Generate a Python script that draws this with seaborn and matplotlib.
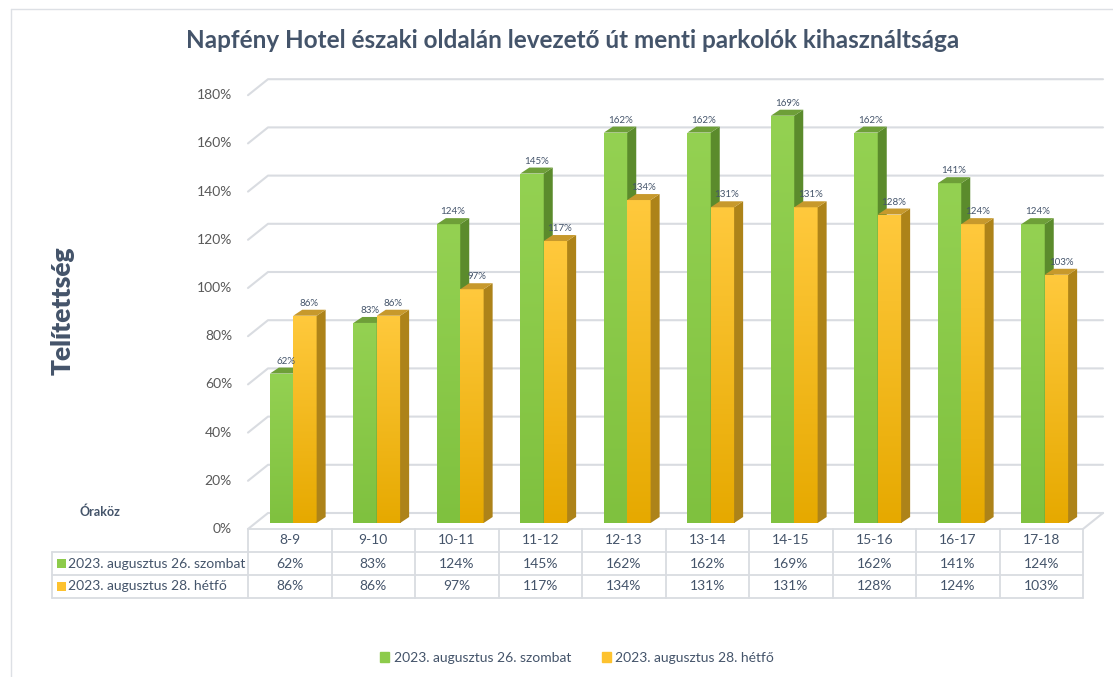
import numpy as np
import pandas as pd
import matplotlib
matplotlib.use('Agg')
import matplotlib.pyplot as plt
import seaborn as sns
from matplotlib.patches import Polygon, Rectangle, Patch
from matplotlib.lines import Line2D
from matplotlib.colors import LinearSegmentedColormap

# Adatok
orakoz = ['8-9', '9-10', '10-11', '11-12', '12-13', '13-14', '14-15', '15-16', '16-17', '17-18']
szombat = [62, 83, 124, 145, 162, 162, 169, 162, 141, 124]
hetfo = [86, 86, 97, 117, 134, 131, 131, 128, 124, 103]
sorozatok = ['2023. augusztus 26. szombat', '2023. augusztus 28. hétfő']
y_ertekek = [0, 20, 40, 60, 80, 100, 120, 140, 160, 180]

cim = 'Napfény Hotel északi oldalán levezető út menti parkolók kihasználtsága'

df = pd.DataFrame({
    'orakoz': orakoz * 2,
    'ertek': szombat + hetfo,
    'nap': [sorozatok[0]] * len(orakoz) + [sorozatok[1]] * len(orakoz),
})

zold = '#8DCB4B'
narancs = '#FDC22F'
szoveg = '#44546A'
racs = '#D9DCE1'

sns.set_theme(style='white')
plt.rcParams['font.family'] = ['Lato', 'DejaVu Sans']

W, H = 1113, 677
fig = plt.figure(figsize=(W / 100, H / 100), dpi=100)

# a tengely az oszlopok síkja: x 248..1083 px, 0% a 523 px-nél
ax_left, ax_right = 248, 1083
y0_px = 523
px_per_pct = 2.41
ax_top = y0_px - 180 * px_per_pct
ax = fig.add_axes([ax_left / W, 1 - y0_px / H,
                   (ax_right - ax_left) / W, (y0_px - ax_top) / H])

ux = len(orakoz) / (ax_right - ax_left)   # adategység / pixel (x)
uy = 180 / (y0_px - ax_top)              # adategység / pixel (y)

# első és hátsó sík eltolása (3D hatás)
fy = -6 * uy
bx, by = 20 * ux, 10 * uy
dx, dy = 9 * ux, 6 * uy

sns.barplot(data=df, x='orakoz', y='ertek', hue='nap', order=orakoz,
            palette={sorozatok[0]: zold, sorozatok[1]: narancs},
            width=0.56, saturation=1, ax=ax, legend=False, edgecolor='none')

szinek = [
    dict(also='#7FC13F', felso='#94D152', oldal='#5B8B2C', teteje='#6E9F38', z=2),
    dict(also='#E6A900', felso='#FFC93D', oldal='#AD8319', teteje='#C7992C', z=3),
]

for ci, cont in enumerate(ax.containers):
    sz = szinek[ci]
    cmap = LinearSegmentedColormap.from_list('g', [sz['also'], sz['felso']])
    for bar in cont:
        bar.set_x(bar.get_x() + 3.5 * ux)
        x0, w, h = bar.get_x(), bar.get_width(), bar.get_height()
        bar.set_zorder(sz['z'])
        grad = np.linspace(0, 1, 256).reshape(-1, 1)
        im = ax.imshow(grad, extent=(x0, x0 + w, 0, h), origin='lower',
                       aspect='auto', cmap=cmap, zorder=sz['z'] + 0.01)
        im.set_clip_path(bar)
        ax.add_patch(Polygon([(x0 + w, 0), (x0 + w + dx, dy), (x0 + w + dx, h + dy), (x0 + w, h)],
                             closed=True, facecolor=sz['oldal'], edgecolor='none', zorder=sz['z'] + 0.1))
        ax.add_patch(Polygon([(x0, h), (x0 + dx, h + dy), (x0 + w + dx, h + dy), (x0 + w, h)],
                             closed=True, facecolor=sz['teteje'], edgecolor='none', zorder=sz['z'] + 0.1))
        ax.text(x0 + w / 2 + dx / 2, h + dy + 2 * uy, f'{int(round(h))}%',
                ha='center', va='bottom', fontsize=7, color=szoveg, zorder=6)

# rácsvonalak (hátsó fal) és a bal oldali ferde szakaszok
for v in y_ertekek:
    ax.plot([-0.5, -0.5 + bx, len(orakoz) - 0.5 + bx], [v + fy, v + by, v + by],
            color=racs, lw=1.5, zorder=0.5, clip_on=False)
    ax.text(-0.5 - 16 * ux, v + fy, f'{v}%', ha='right', va='center',
            fontsize=10, color='#595959', clip_on=False)

# padló jobb oldali éle
ax.plot([len(orakoz) - 0.5, len(orakoz) - 0.5 + bx], [fy, by], color=racs, lw=1.5,
        zorder=0.5, clip_on=False)

# adattábla a tengely alatt
rh = 23 * uy
left_x = -0.5 - (ax_left - 52) * ux
right_x = len(orakoz) - 0.5
tabla = dict(color=racs, lw=1.3, clip_on=False, zorder=1)
ax.plot([-0.5, right_x], [fy, fy], **tabla)
for r in range(1, 4):
    ax.plot([left_x, right_x], [fy - r * rh] * 2, **tabla)
for k in range(len(orakoz) + 1):
    ax.plot([k - 0.5, k - 0.5], [fy, fy - 3 * rh], **tabla)
ax.plot([left_x, left_x], [fy - rh, fy - 3 * rh], **tabla)

for k, o in enumerate(orakoz):
    ax.text(k, fy - 0.5 * rh, o, ha='center', va='center', fontsize=10, color=szoveg, clip_on=False)
    ax.text(k, fy - 1.5 * rh, f'{szombat[k]}%', ha='center', va='center', fontsize=10,
            color=szoveg, clip_on=False)
    ax.text(k, fy - 2.5 * rh, f'{hetfo[k]}%', ha='center', va='center', fontsize=10,
            color=szoveg, clip_on=False)

for r, (nev, szin) in enumerate(zip(sorozatok, [zold, narancs])):
    yc = fy - (1.5 + r) * rh
    ax.add_patch(Rectangle((left_x + 5 * ux, yc - 4.5 * uy), 9 * ux, 9 * uy,
                           facecolor=szin, edgecolor='none', clip_on=False))
    ax.text(left_x + 16 * ux, yc, nev, ha='left', va='center', fontsize=10,
            color=szoveg, clip_on=False)

ax.set_xlim(-0.5, len(orakoz) - 0.5)
ax.set_ylim(0, 180)
ax.set_xticks([])
ax.set_yticks([])
ax.set_xlabel('')
ax.set_ylabel('')
for s in ax.spines.values():
    s.set_visible(False)
ax.patch.set_alpha(0)

fig.text(573 / W, 1 - 40 / H, cim, ha='center', va='center', fontsize=17.5,
         fontweight='bold', color=szoveg)
fig.text(63 / W, 1 - 311 / H, 'Telítettség', ha='center', va='center', rotation=90,
         fontsize=19, fontweight='heavy', color=szoveg)
fig.text(79 / W, 1 - 512 / H, 'Óraköz', ha='left', va='center', fontsize=9,
         fontweight='bold', color=szoveg)

fig.legend(handles=[Patch(color=zold), Patch(color=narancs)], labels=sorozatok,
           loc='center', bbox_to_anchor=(577 / W, 1 - 658 / H), ncol=2, frameon=False,
           fontsize=10, handlelength=0.7, handleheight=0.7, handletextpad=0.3,
           columnspacing=2.2, labelcolor=szoveg)

# a diagramterület kerete csak felül és bal oldalon látszik
keret = dict(transform=fig.transFigure, color='#DDE0E5', lw=1)
fig.add_artist(Line2D([11 / W, 1], [1 - 9 / H, 1 - 9 / H], **keret))
fig.add_artist(Line2D([11 / W, 11 / W], [0, 1 - 9 / H], **keret))

fig.savefig('out.png', dpi=100)
